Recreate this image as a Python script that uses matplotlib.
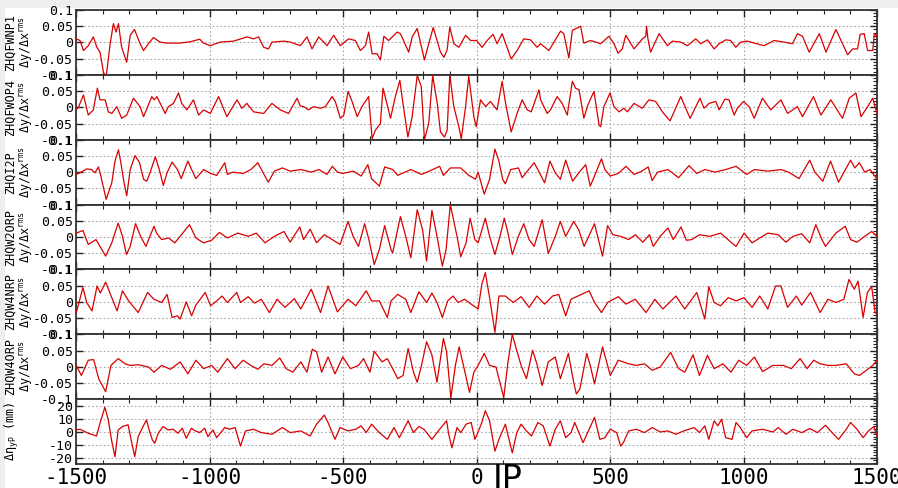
import matplotlib
matplotlib.use("Agg")
import matplotlib.pyplot as plt
from matplotlib.ticker import MultipleLocator, FixedLocator, FixedFormatter
from matplotlib.patches import Rectangle

plt.rcParams['axes.unicode_minus'] = False
plt.rcParams['mathtext.fontset'] = 'custom'
plt.rcParams['mathtext.rm'] = 'DejaVu Sans Mono'
plt.rcParams['mathtext.it'] = 'DejaVu Sans Mono'

# ---------------- data ----------------
x1 = [-1500,-1485,-1472,-1454,-1435,-1422,-1410,-1397,-1387,-1372,
      -1360,-1350,-1341,-1329,-1310,-1297,-1281,-1260,-1247,-1229,
      -1210,-1185,-1160,-1110,-1072,-1037,-1022,-997,-960,-910,
      -860,-835,-816,-797,-779,-766,-722,-697,-660,-635,
      -616,-591,-572,-560,-535,-510,-479,-454,-435,-416,
      -404,-391,-372,-360,-347,-329,-297,-285,-254,-241,
      -222,-195,-179,-162,-135,-122,-110,-100,-85,-66,
      -41,-22,0,21,40,62,77,96,130,152,
      177,202,227,240,271,290,315,327,346,359,
      390,402,427,465,496,515,530,546,559,571,
      590,621,634,637,642,652,684,715,734,765,
      790,821,840,865,890,909,934,952,971,990,
      1015,1040,1077,1115,1152,1184,1202,1221,1246,1284,
      1309,1346,1390,1409,1427,1437,1452,1465,1484,1490,
      1500]
y1 = [0.011,0.006,-0.025,-0.01,0.017,-0.015,-0.03,-0.093,-0.105,-0.004,
      0.058,0.032,0.058,-0.015,-0.061,0.022,0.04,-0.004,-0.025,-0.004,
      0.015,0.001,-0.002,-0.002,0.002,0.01,-0.002,-0.01,0.001,0.004,
      0.017,0.011,0.017,-0.015,-0.02,0.001,0.004,0.001,-0.01,0.017,
      -0.02,0.017,0.001,-0.01,0.022,-0.01,0.011,0.006,-0.025,-0.01,
      0.032,-0.035,-0.035,-0.054,0.019,0.006,0.032,0.027,-0.03,0.017,
      0.043,-0.054,-0.004,0.046,-0.03,-0.046,-0.023,0.048,-0.004,-0.015,
      0.022,0.006,0.006,-0.015,0.006,0.025,-0.004,0.027,-0.051,-0.025,
      0.011,0.008,-0.015,-0.004,-0.025,0.001,0.035,0.027,-0.048,0.037,
      0.05,-0.002,0.006,-0.004,0.019,-0.004,-0.033,-0.02,0.022,0.006,
      -0.02,0.011,0.019,0.05,0.011,-0.03,0.027,-0.01,0.004,0.001,
      -0.01,0.011,-0.004,0.008,-0.02,-0.004,0.008,0.006,-0.015,0.001,
      0.004,-0.002,-0.01,0.006,0.001,-0.004,0.027,0.019,-0.03,0.027,
      -0.03,0.04,-0.038,-0.02,-0.02,0.025,0.027,-0.025,-0.025,0.027,
      0.02]

x2 = [-1500,-1491,-1472,-1454,-1435,-1420,-1410,-1391,-1379,-1366,
      -1347,-1329,-1310,-1285,-1260,-1247,-1216,-1207,-1197,-1166,
      -1154,-1135,-1116,-1104,-1085,-1060,-1041,-1022,-997,-966,
      -935,-897,-879,-860,-835,-797,-766,-735,-704,-672,
      -660,-647,-629,-610,-585,-566,-541,-529,-510,-497,
      -481,-466,-447,-429,-404,-391,-379,-360,-350,-322,
      -304,-287,-279,-257,-241,-222,-207,-195,-179,-164,
      -147,-135,-120,-110,-100,-85,-66,-57,-41,-29,
      -10,-1,15,34,52,77,96,109,130,152,
      171,190,205,234,240,265,277,302,321,340,
      359,371,384,402,417,440,459,465,477,500,
      515,534,552,565,590,621,646,671,696,725,
      765,800,837,852,871,896,909,930,946,965,
      977,1000,1021,1040,1071,1102,1140,1165,1202,1221,
      1262,1290,1327,1359,1371,1396,1421,1440,1465,1484,
      1500]
y2 = [-0.008,0.0,0.038,-0.024,-0.008,0.059,0.023,0.023,-0.014,-0.019,
      0.002,-0.034,-0.024,0.028,0.002,-0.029,0.033,0.023,0.033,-0.019,
      0.002,0.012,0.044,0.012,-0.008,0.023,-0.024,-0.008,-0.019,0.033,
      -0.029,0.023,-0.003,0.012,-0.014,-0.019,0.012,-0.008,-0.019,0.028,
      0.004,0.002,-0.008,0.002,-0.003,0.002,0.033,0.018,-0.034,-0.024,
      0.049,0.018,-0.029,0.002,0.033,-0.097,-0.071,-0.05,0.059,-0.034,
      0.033,0.083,0.033,-0.092,-0.029,0.098,0.064,-0.1,-0.05,0.098,
      0.012,-0.076,-0.092,-0.071,0.1,0.002,-0.06,-0.097,0.002,0.096,
      -0.029,-0.06,0.023,0.002,0.018,-0.008,0.08,0.012,-0.076,-0.019,
      0.023,-0.008,-0.014,0.054,0.023,-0.019,-0.008,0.033,0.012,-0.024,
      0.08,0.059,0.054,-0.034,0.007,0.049,-0.055,-0.06,0.002,0.044,
      0.002,-0.014,-0.003,-0.014,0.012,-0.003,0.023,0.018,-0.014,-0.042,
      0.033,-0.034,0.028,-0.003,0.012,0.018,-0.008,0.025,0.023,-0.024,
      -0.003,0.018,0.002,-0.034,0.028,-0.008,0.023,-0.019,0.002,-0.029,
      0.033,-0.024,0.023,-0.019,-0.034,0.028,0.044,-0.029,0.002,0.028,
      -0.019]

x3 = [-1500,-1485,-1460,-1441,-1429,-1416,-1407,-1387,-1366,-1354,
      -1341,-1332,-1320,-1310,-1297,-1279,-1262,-1247,-1235,-1222,
      -1203,-1188,-1173,-1159,-1140,-1120,-1106,-1081,-1067,-1051,
      -1022,-996,-973,-943,-933,-914,-874,-845,-819,-799,
      -780,-757,-727,-698,-658,-619,-590,-560,-540,-521,
      -501,-462,-432,-407,-393,-364,-344,-314,-295,-246,
      -206,-177,-138,-124,-98,-59,-29,-4,6,29,
      49,69,84,98,108,128,157,171,187,216,
      236,255,275,295,314,334,360,383,409,426,
      442,468,481,501,531,560,590,619,643,658,
      678,717,757,796,825,855,894,933,972,1012,
      1041,1091,1140,1169,1208,1248,1267,1297,1326,1356,
      1401,1417,1434,1454,1474,1500]
y3 = [-0.007,-0.002,0.01,0.008,-0.002,0.016,-0.012,-0.084,-0.033,0.034,
      0.069,0.029,-0.033,-0.073,0.008,0.051,0.029,-0.022,-0.028,0.0,
      0.047,0.008,-0.041,-0.002,0.031,0.008,-0.02,0.034,0.008,-0.02,
      0.008,-0.004,-0.01,0.029,-0.007,0.0,-0.004,0.008,0.029,-0.002,
      -0.031,0.003,0.013,0.003,0.008,0.0,0.008,-0.007,0.018,0.0,
      -0.004,0.003,-0.012,0.023,-0.02,-0.043,0.016,0.008,-0.01,0.008,
      -0.007,0.003,0.018,-0.01,0.013,0.013,-0.01,-0.022,0.0,-0.068,
      -0.022,0.071,0.034,-0.022,-0.036,0.008,0.013,-0.017,0.0,0.029,
      -0.002,-0.033,0.034,-0.002,-0.022,0.037,-0.028,-0.002,0.023,-0.043,
      -0.012,0.041,0.008,-0.012,-0.004,0.018,-0.007,0.003,0.016,-0.026,
      0.0,0.008,-0.017,0.02,-0.004,0.008,0.0,0.008,0.018,-0.007,
      0.008,0.003,0.008,0.0,-0.02,0.037,0.0,-0.028,0.034,-0.031,
      0.037,0.013,0.029,0.0,0.008,-0.022]

x4 = [-1499,-1474,-1454,-1425,-1389,-1366,-1342,-1326,-1311,-1297,
      -1277,-1258,-1238,-1208,-1198,-1179,-1153,-1130,-1110,-1075,
      -1051,-1022,-992,-963,-933,-894,-855,-825,-792,-757,
      -721,-698,-662,-648,-623,-599,-570,-540,-511,-481,
      -462,-442,-419,-403,-383,-364,-344,-320,-314,-285,
      -265,-246,-222,-202,-187,-167,-148,-128,-114,-98,
      -73,-59,-39,-24,-6,6,33,49,69,88,
      104,118,134,157,177,197,216,246,269,295,
      314,334,364,383,403,442,472,491,511,540,
      570,595,623,648,662,688,717,737,766,786,
      806,835,874,914,949,972,1002,1032,1061,1091,
      1130,1159,1185,1218,1248,1271,1291,1307,1346,1381,
      1401,1425,1454,1480,1500]
y4 = [0.012,0.02,-0.023,-0.008,-0.059,-0.018,0.043,0.002,-0.054,-0.029,
      0.041,0.002,-0.029,0.033,0.012,-0.008,-0.003,-0.018,0.002,0.038,
      -0.003,-0.018,-0.01,0.014,-0.003,0.012,0.002,0.012,-0.018,0.002,
      0.017,-0.016,0.031,-0.008,0.024,-0.018,0.007,-0.008,-0.023,0.048,
      0.002,-0.029,0.041,-0.008,-0.085,-0.039,0.035,-0.039,-0.049,0.063,
      0.002,-0.064,0.084,0.022,-0.074,0.082,0.002,-0.09,-0.039,0.1,
      0.002,-0.061,-0.018,0.058,-0.008,-0.018,0.058,0.002,-0.054,0.002,
      0.058,0.012,-0.054,0.002,0.041,-0.008,-0.029,0.053,-0.051,0.002,
      0.048,0.002,0.048,0.022,-0.029,0.041,-0.059,0.035,0.007,0.002,
      -0.008,0.007,-0.016,0.007,-0.029,0.002,0.028,-0.008,0.031,-0.01,
      -0.008,0.007,0.002,0.012,-0.013,-0.029,0.012,-0.018,-0.003,0.012,
      0.007,-0.016,0.002,0.01,-0.018,0.038,-0.003,-0.029,0.012,0.033,
      -0.008,-0.016,0.002,0.017,0.002]

x5 = [-1499,-1474,-1460,-1440,-1421,-1409,-1389,-1366,-1346,-1326,
      -1303,-1267,-1232,-1208,-1179,-1159,-1140,-1120,-1110,-1087,
      -1067,-1051,-1016,-996,-973,-953,-933,-898,-884,-855,
      -831,-806,-776,-747,-717,-682,-658,-619,-584,-556,
      -521,-481,-452,-413,-393,-364,-334,-320,-295,-265,
      -246,-216,-187,-167,-148,-128,-108,-88,-69,-45,
      -20,6,20,33,49,69,84,108,138,167,
      197,226,255,285,308,334,354,393,422,442,
      468,491,531,560,595,635,668,698,747,780,
      825,855,870,890,914,943,972,1002,1032,1061,
      1091,1120,1140,1165,1198,1218,1251,1287,1316,1346,
      1376,1395,1415,1429,1448,1464,1480,1493,1500]
y5 = [-0.033,0.044,-0.002,-0.028,0.049,0.027,0.061,0.013,-0.028,0.034,
      0.003,-0.033,0.029,0.008,-0.002,0.023,-0.048,-0.043,-0.053,0.0,
      -0.043,-0.01,0.029,-0.012,0.003,0.018,-0.002,0.029,-0.002,0.016,
      -0.004,0.008,-0.033,0.008,-0.017,0.01,-0.022,0.039,-0.033,0.049,
      -0.031,0.008,-0.012,0.034,0.003,0.003,-0.048,0.003,0.023,0.008,
      -0.033,0.031,-0.002,0.027,-0.002,-0.048,0.003,0.018,-0.002,0.008,
      -0.007,-0.022,0.054,0.09,0.013,-0.094,0.018,0.018,-0.002,0.016,
      -0.017,0.018,-0.007,0.018,0.023,-0.043,0.008,0.023,0.034,-0.002,
      -0.033,-0.002,0.016,-0.007,0.008,-0.033,0.008,-0.022,0.018,-0.022,
      0.029,-0.053,0.047,-0.002,-0.012,0.013,0.003,0.013,-0.017,0.018,
      -0.022,0.049,0.049,-0.017,0.018,-0.01,0.029,-0.033,0.008,-0.002,
      0.008,0.069,0.039,0.064,-0.048,0.029,0.047,-0.033,-0.038]

x6 = [-1499,-1480,-1454,-1434,-1415,-1389,-1369,-1342,-1316,-1297,
      -1267,-1228,-1208,-1179,-1146,-1110,-1081,-1051,-1022,-992,
      -969,-933,-904,-874,-845,-819,-796,-766,-737,-713,
      -688,-658,-635,-615,-599,-580,-556,-530,-501,-472,
      -442,-423,-399,-383,-354,-334,-314,-295,-275,-256,
      -236,-222,-206,-187,-167,-148,-124,-112,-96,-79,
      -65,-49,-26,-10,6,29,49,73,102,118,
      134,147,167,187,210,226,246,269,295,314,
      344,364,374,387,413,426,442,472,491,501,
      531,570,599,629,658,688,727,757,780,811,
      835,865,890,923,953,982,1012,1041,1071,1110,
      1150,1179,1212,1238,1263,1287,1316,1346,1385,1415,
      1434,1460,1484,1500]
y6 = [0.004,-0.027,0.02,0.022,-0.037,-0.077,0.004,0.025,0.009,0.004,
      0.006,-0.001,-0.017,0.004,-0.008,0.015,-0.022,0.02,-0.006,0.004,
      -0.017,0.025,-0.006,0.02,0.004,-0.008,0.009,0.004,0.027,-0.006,
      -0.017,0.015,-0.017,0.054,0.046,-0.017,0.03,-0.022,0.03,-0.006,
      0.004,0.025,-0.017,0.048,0.015,0.025,-0.006,-0.037,-0.027,0.056,
      -0.017,-0.048,0.004,0.077,0.036,-0.048,0.087,0.046,-0.095,0.004,
      0.061,0.004,-0.079,-0.017,0.004,0.041,0.004,-0.001,-0.095,0.015,
      0.1,0.061,0.004,-0.037,0.051,0.009,-0.058,0.015,0.03,-0.037,
      0.041,-0.048,-0.084,-0.069,0.041,0.004,-0.053,0.061,0.004,-0.027,
      0.02,0.009,0.004,0.009,-0.011,-0.001,0.044,-0.006,-0.017,0.037,
      -0.027,0.035,-0.006,0.009,-0.017,0.02,0.004,0.03,-0.015,0.004,
      0.004,-0.006,0.025,-0.006,0.02,0.009,0.004,0.004,0.009,-0.022,
      -0.027,-0.011,0.004,0.02]

x7 = [-1500,-1485,-1454,-1423,-1410,-1392,-1379,-1367,-1354,-1342,
      -1326,-1305,-1296,-1280,-1267,-1249,-1236,-1226,-1214,-1205,
      -1192,-1174,-1155,-1136,-1118,-1102,-1087,-1068,-1056,-1037,
      -1018,-1006,-987,-973,-943,-924,-904,-884,-865,-835,
      -806,-766,-727,-698,-658,-623,-599,-570,-556,-530,
      -511,-481,-452,-432,-413,-393,-364,-334,-309,-289,
      -256,-236,-216,-197,-167,-138,-112,-104,-92,-73,
      -59,-39,-20,-6,10,20,33,49,69,84,
      108,134,151,167,187,206,230,250,275,295,
      314,334,354,368,399,422,442,462,481,501,
      525,540,550,570,599,629,658,688,717,747,
      776,815,835,855,870,890,904,918,933,957,
      972,988,1012,1032,1071,1110,1130,1159,1185,1218,
      1248,1277,1307,1326,1356,1385,1401,1425,1448,1468,
      1488,1500]
y7 = [1.3,1.8,-1.3,-3.4,6.5,18.8,9,-6.5,-19.4,1.3,
      3.9,5.2,-3.9,-19.4,-3.9,3.9,9,1.3,-6.5,-9,
      -1.3,3.9,1.3,1.8,-1.3,2.6,-5.2,2.6,0.8,-0.8,
      2.6,-3.9,1.3,-4.7,3.1,1.8,3.1,-11.2,0.5,1.8,
      -0.8,-2.1,3.1,-0.8,0.5,-3.4,5.7,12.7,7,-6,
      3.1,0.5,1.8,4.4,-0.8,5.7,-0.8,-6,3.1,-4.7,
      8.3,-0.8,3.9,1.8,-6,1.8,8.3,-2.1,-12.5,3.1,
      -0.8,5.7,7,-6,1.8,7,16.1,8.3,-15.1,-6,
      5.7,-16.4,-0.8,5.7,0.5,-3.4,7,4.4,-11.2,1.8,
      8.3,-4.7,-0.8,7,-8.6,1.8,10.9,-6,-4.7,1.8,
      -0.8,-11.2,-8.6,0.5,1.8,-0.8,3.1,-0.3,0.5,-2.1,
      0.5,3.1,-0.8,4.4,-6,8.3,4.4,9.6,-4.7,-6,
      7,3.1,-4.7,0.5,1.8,-0.3,3.1,-2.1,1.8,-0.8,
      2.3,-0.8,4.9,0.5,-6,1.8,7,1.8,-4.7,0.5,
      3.9,-3.4]

series_x = [x1, x2, x3, x4, x5, x6, x7]
series_y = [y1, y2, y3, y4, y5, y6, y7]
labels = ['ZHQFWNP1', 'ZHQFWOP4', 'ZHQI2P', 'ZHQW2ORP', 'ZHQW4NRP', 'ZHQW4ORP']
ratio_ticks = [-0.1, -0.05, 0, 0.05, 0.1]
ratio_ticklabels = ['-0.1', '-0.05', '0', '0.05', '0.1']
eta_ticks = [-20, -10, 0, 10, 20]
eta_ticklabels = ['-20', '-10', '0', '10', '20']
x_ticks = [-1500, -1000, -500, 0, 500, 1000, 1500]
x_ticklabels = ['-1500', '-1000', '-500', '0', '500', '1000', '1500']

# ---------------- figure ----------------
W, H = 898, 488
fig = plt.figure(figsize=(W / 100, H / 100), dpi=100)
fig.patch.set_facecolor('white')
fig.add_artist(Rectangle((0, 1 - 8 / H), 1, 8 / H, transform=fig.transFigure,
                         facecolor='#eeeeee', edgecolor='none', zorder=-5))
fig.add_artist(Rectangle((0, 0), 5 / W, 1, transform=fig.transFigure,
                         facecolor='#eeeeee', edgecolor='none', zorder=-5))

left_px, right_px = 76, 877
top_px, bot_px = 10, 464
n = 7
ph = (bot_px - top_px) / n
mono = 'DejaVu Sans Mono'

for i in range(n):
    y0 = bot_px - (i + 1) * ph  # this is wrong orientation; fix below
    top = top_px + i * ph
    ax = fig.add_axes([left_px / W, 1 - (top + ph) / H, (right_px - left_px) / W, ph / H])
    ax.plot(series_x[i], series_y[i], color='#d80000', lw=0.9, zorder=3)
    ax.set_xlim(-1500, 1500)
    ax.xaxis.set_major_locator(FixedLocator(x_ticks))
    ax.xaxis.set_minor_locator(MultipleLocator(100))
    if i < 6:
        ax.set_ylim(-0.1, 0.1)
        ax.yaxis.set_major_locator(FixedLocator(ratio_ticks))
        ax.yaxis.set_major_formatter(FixedFormatter(ratio_ticklabels))
        ax.yaxis.set_minor_locator(MultipleLocator(0.01))
        ax.set_ylabel(labels[i] + '\n' + r'Δy/Δx$^{\mathrm{rms}}$', fontsize=8.5,
                      family=mono, linespacing=1.15)
        ax.yaxis.set_label_coords(-0.051, 0.5)
    else:
        ax.set_ylim(-25, 25)
        ax.yaxis.set_major_locator(FixedLocator(eta_ticks))
        ax.yaxis.set_major_formatter(FixedFormatter(eta_ticklabels))
        ax.yaxis.set_minor_locator(MultipleLocator(2))
        ax.set_ylabel(r'Δη$_{\mathrm{yP}}$ (mm)', fontsize=8.5, family=mono)
        ax.yaxis.set_label_coords(-0.069, 0.5)
    ax.grid(True, which='major', color='#aaaaaa', linestyle=(0, (1.5, 2.0)), lw=0.8, zorder=1)
    ax.tick_params(which='major', direction='in', top=True, right=True, length=5,
                   width=1.0, color='#222222', labelsize=9.5, pad=2)
    ax.tick_params(which='minor', direction='in', top=True, bottom=True,
                   left=False, right=True, length=3, width=0.8, color='#222222')
    for t in ax.get_yticklabels():
        t.set_family(mono)
    if i < n - 1:
        ax.tick_params(axis='x', labelbottom=False)
    else:
        ax.xaxis.set_major_formatter(FixedFormatter(x_ticklabels))
        ax.tick_params(axis='x', labelsize=15, pad=3)
        for t in ax.get_xticklabels():
            t.set_family(mono)
    for s in ax.spines.values():
        s.set_linewidth(1.3)
        s.set_color('#333333')

fig.text(493 / W, 1 - 463 / H, 'IP', fontsize=24, family='DejaVu Sans',
         ha='left', va='top')

fig.savefig('out.png', dpi=100, facecolor=fig.get_facecolor())
